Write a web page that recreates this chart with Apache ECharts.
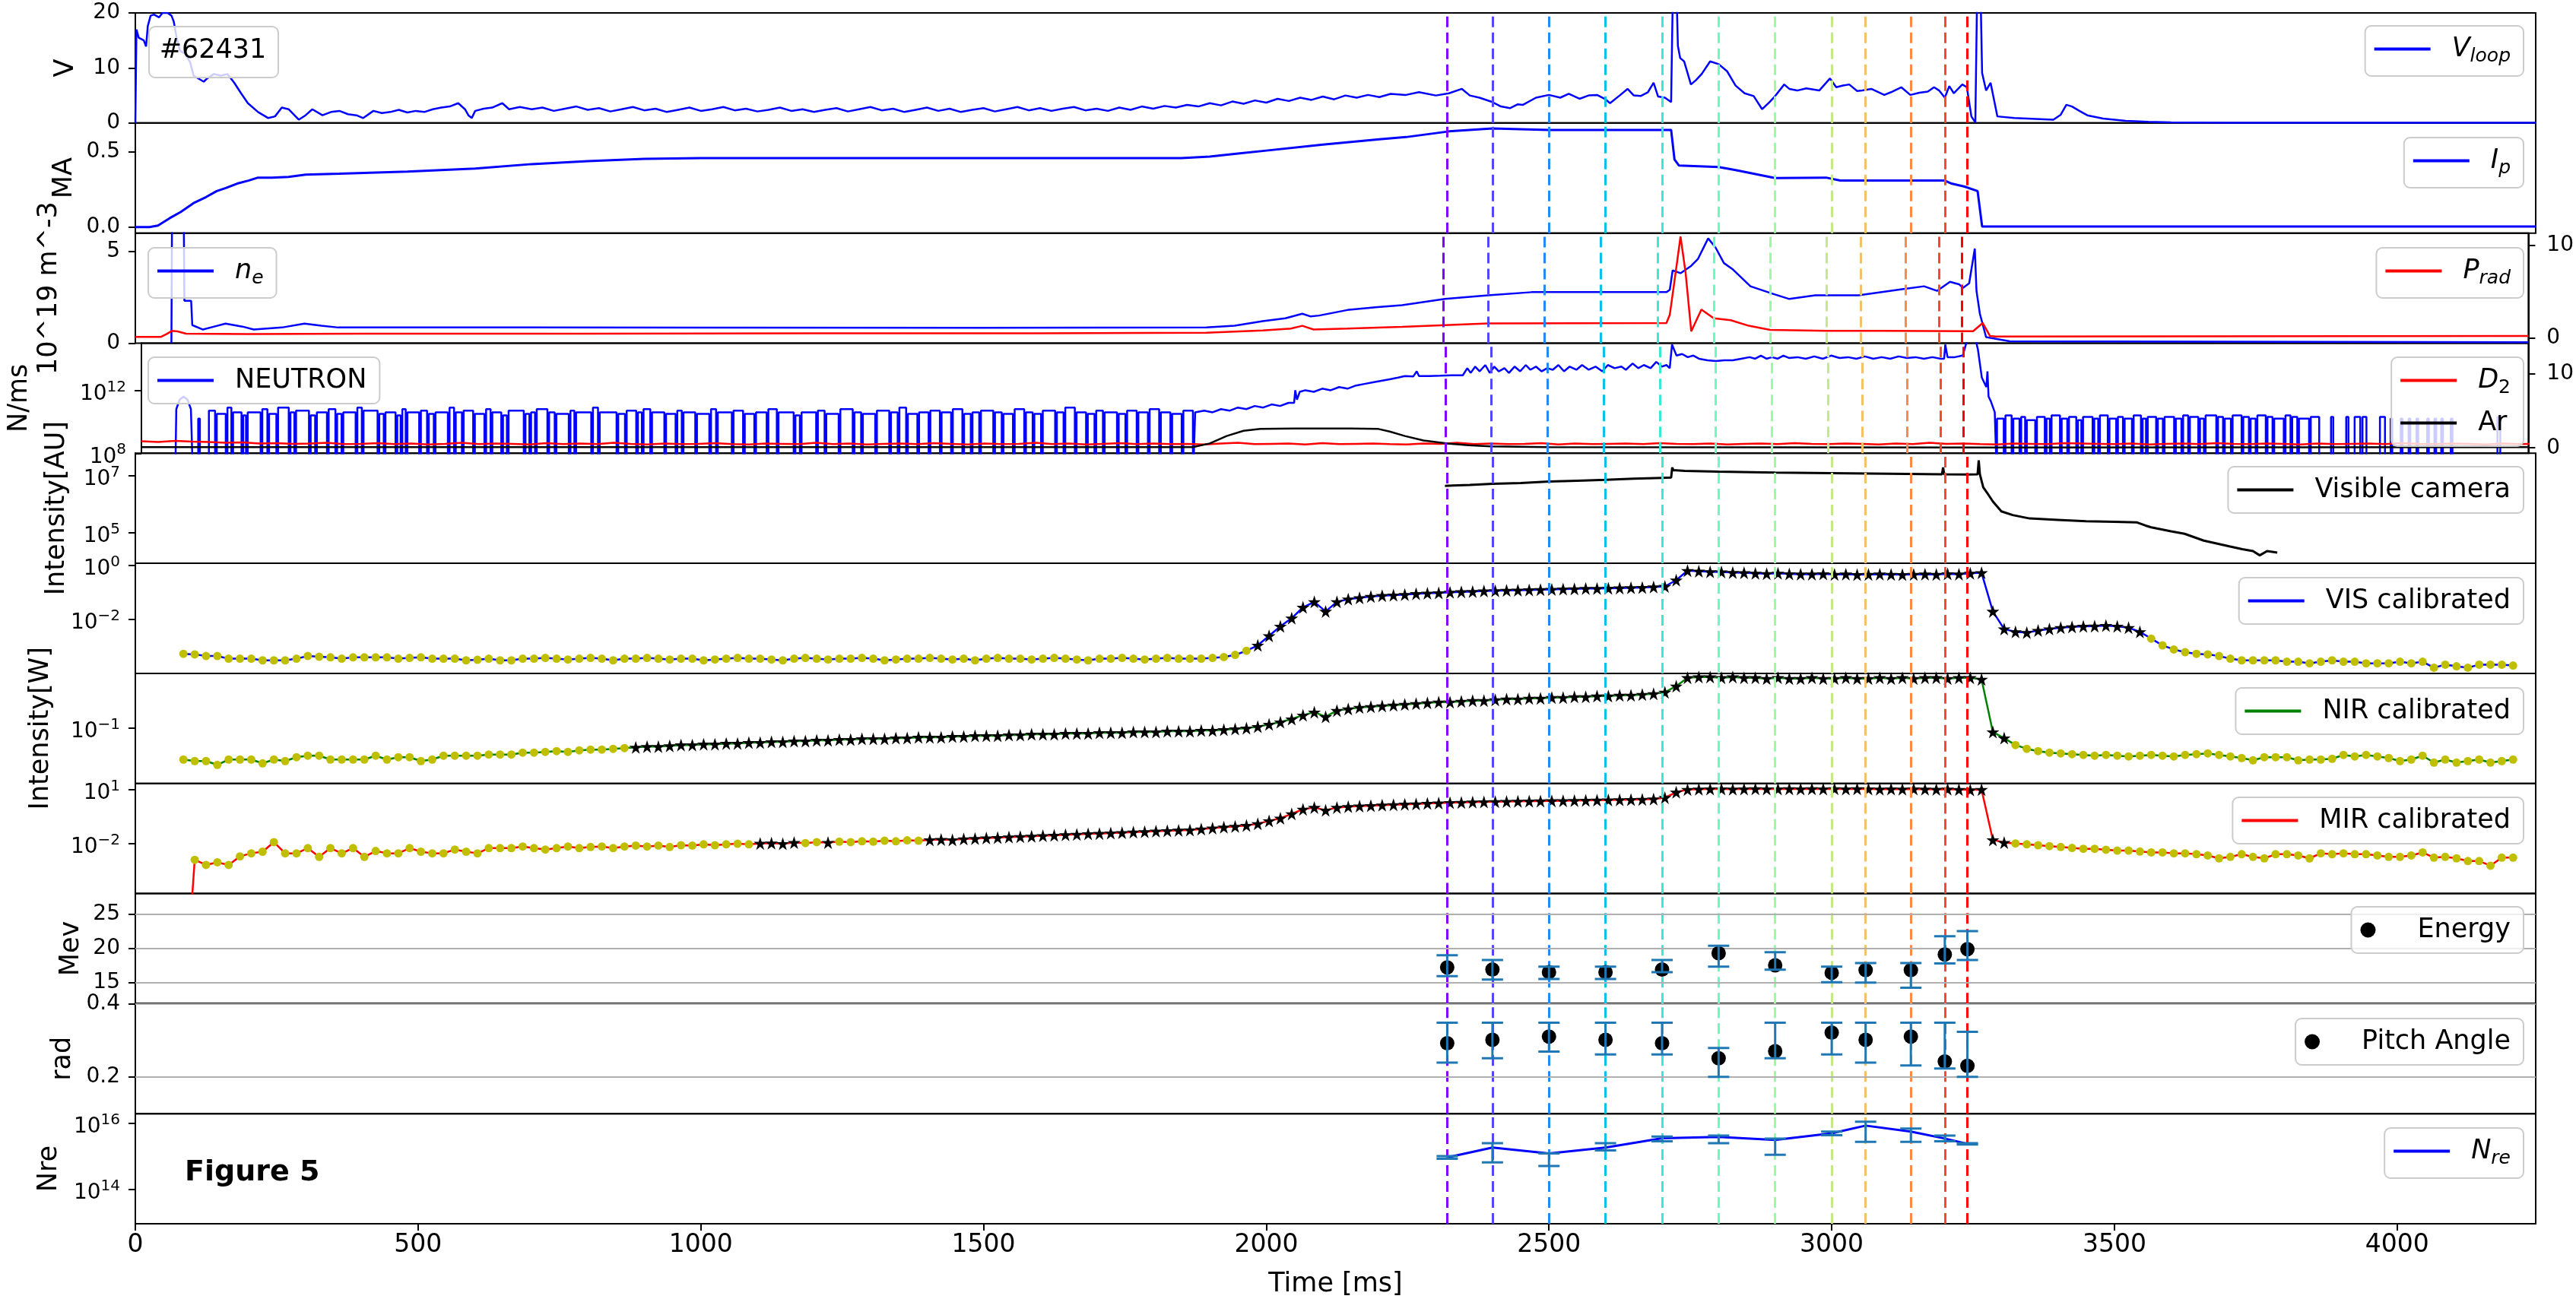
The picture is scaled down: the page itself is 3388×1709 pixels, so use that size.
<!DOCTYPE html>
<html><head><meta charset="utf-8">
<script src="https://cdn.jsdelivr.net/npm/echarts@6/dist/echarts.min.js"></script>
<style>html,body{margin:0;padding:0;background:#fff;}#c{width:3388px;height:1709px;}</style>
</head><body><div id="c"></div>
<script>
// ---------------- DATA ----------------
const xTicks = [0,500,1000,1500,2000,2500,3000,3500,4000];
const vlineT = [2320,2400,2500,2600,2700,2800,2900,3000,3060,3140,3200,3240];
const vlineC = ['#8000ff','#5148fc','#238af5','#0cc1e8','#3ae8d7','#68fcc1','#97fca7','#c5e88a','#f3c16a','#ff8a48','#ff4824','#ff0000'];

// panel 1: loop voltage [ms, V]
const vloop = [[0,0],[2,17],[6,15.5],[15,15],[19,13.9],[22,17.6],[27,19.5],[33,19.7],[42,19.2],[48,20],[57,20],[64,19.5],[68,18.4],[73,15.5],[79,13.1],[88,12.6],[97,11],[103,8.6],[121,7.5],[127,8.1],[139,8.9],[151,8.6],[163,8.9],[175,7.3],[187,5.4],[199,3.6],[217,2.0],[235,0.9],[247,1.2],[259,2.8],[271,2.5],[289,0.6],[301,1.4],[313,2.5],[331,1.4],[346,2.0],[361,2.2],[376,1.6],[391,1.4],[403,0.9],[421,2.2],[436,1.8],[451,2.0],[466,2.4],[481,1.9],[496,2.2],[511,2.0],[526,2.5],[541,2.8],[556,3.0],[571,3.6],[583,2.5],[589,1.4],[595,0.9],[601,2.2],[616,2.6],[631,2.8],[649,3.6],[661,2.5],[680,2.9],[701,2.5],
[720,2.8],[740,2.2],[760,2.6],[780,3.0],[800,2.4],[820,2.7],[840,2.1],[860,2.5],[880,2.9],[900,2.3],[920,2.6],[940,2.0],[960,2.4],[980,2.8],[1000,2.2],[1020,2.5],[1040,2.9],[1060,2.3],[1080,2.6],[1100,2.1],[1120,2.4],[1140,2.8],[1160,2.2],[1180,2.5],[1200,2.0],[1220,2.4],[1240,2.7],[1260,2.1],[1280,2.5],[1300,2.9],[1320,2.3],[1340,2.6],[1360,2.0],[1380,2.4],[1400,2.8],[1420,2.2],[1440,2.6],[1460,2.0],[1480,2.4],[1500,2.7],[1520,2.1],[1540,2.5],[1560,2.9],[1580,2.3],[1600,2.7],[1620,2.2],[1640,2.6],[1660,2.9],[1680,2.3],[1700,2.6],[1720,2.2],[1740,2.8],[1760,2.4],[1780,3.0],[1800,2.6],[1820,3.1],[1840,2.8],[1860,3.3],[1880,3.0],[1900,3.6],[1920,3.2],[1940,3.9],[1960,3.5],[1980,4.1],[2000,3.7],[2020,4.4],[2040,4.0],[2060,4.6],[2080,4.2],[2100,4.8],[2120,4.3],[2140,5.0],[2160,4.6],[2180,5.1],[2200,4.7],[2220,5.3],[2247,5.1],
[2270,5.6],[2300,5.0],[2323,5.4],[2346,6.2],[2360,5.0],[2377,4.6],[2400,3.8],[2415,3.0],[2431,2.7],[2445,3.4],[2454,3.3],[2477,4.6],[2500,5.1],[2520,4.6],[2535,5.3],[2554,4.4],[2570,5.0],[2585,5.1],[2600,4.3],[2608,3.6],[2625,5.0],[2639,6.2],[2650,5.0],[2662,4.9],[2675,5.6],[2685,7.3],[2693,4.8],[2705,4.6],[2716,3.8],[2720,30],[2724,30],[2728,14],[2732,11.8],[2739,11.2],[2751,7.0],[2760,7.8],[2770,8.9],[2785,11.2],[2800,10.7],[2815,9.4],[2830,6.8],[2846,5.4],[2862,4.9],[2877,2.5],[2890,3.8],[2900,4.9],[2916,7.0],[2925,6.2],[2939,5.9],[2955,6.3],[2978,5.9],[2997,8.1],[3008,6.5],[3020,6.8],[3031,7.0],[3045,5.8],[3054,5.9],[3070,6.2],[3093,5.1],[3105,5.6],[3123,6.5],[3139,5.1],[3155,5.5],[3170,5.7],[3181,6.5],[3190,5.9],[3200,4.6],[3208,6.7],[3216,5.4],[3231,7.0],[3239,6.5],[3247,1.2],[3254,0.1],[3258,30],[3262,30],[3266,9.1],[3273,5.9],[3281,7.3],[3293,1.2],[3323,0.9],[3392,0.6],[3405,1.5],[3415,3.3],[3425,3.0],[3438,2.2],[3452,1.4],[3480,0.8],[3520,0.4],[3560,0.2],[3600,0.1],[3700,0.05],[4245,0.05]];

// panel 2: plasma current [ms, MA]
const ip = [[0,0],[25,0],[40,0.01],[61,0.06],[80,0.1],[103,0.16],[125,0.2],[144,0.24],[160,0.26],[180,0.29],[200,0.31],[217,0.33],[241,0.33],[271,0.335],[301,0.35],[361,0.356],[481,0.37],[601,0.39],[701,0.42],[800,0.44],[900,0.455],[1000,0.46],[1400,0.46],[1850,0.46],[1900,0.47],[1950,0.49],[2000,0.51],[2100,0.55],[2200,0.585],[2247,0.60],[2323,0.638],[2400,0.658],[2500,0.648],[2716,0.648],[2722,0.45],[2730,0.41],[2800,0.40],[2830,0.38],[2900,0.327],[2990,0.33],[3015,0.31],[3200,0.31],[3212,0.29],[3235,0.27],[3258,0.24],[3266,0.004],[4245,0.004]];

// panel 3: density [ms, 1e19 m^-3] and radiated power (right axis)
const ne = [[64,0],[65,6.5],[86,6.5],[87,2.3],[99,2.3],[101,0.98],[120,0.74],[140,0.9],[160,1.06],[190,0.9],[210,0.74],[260,0.85],[300,1.06],[330,0.95],[360,0.85],[700,0.85],[1000,0.84],[1500,0.83],[1900,0.85],[1950,0.95],[2000,1.2],[2040,1.35],[2070,1.6],[2085,1.45],[2100,1.5],[2150,1.8],[2200,1.95],[2247,2.06],[2323,2.4],[2400,2.6],[2477,2.77],[2716,2.77],[2722,2.9],[2727,3.95],[2741,3.8],[2760,4.2],[2772,4.58],[2790,5.69],[2803,5.2],[2818,4.35],[2834,4.0],[2865,3.09],[2903,2.7],[2934,2.4],[2980,2.6],[3057,2.6],[3134,2.93],[3173,3.09],[3196,2.84],[3219,3.33],[3235,3.2],[3242,3.0],[3253,3.25],[3263,5.14],[3266,2.84],[3272,1.6],[3283,0.33],[3325,0.1],[4245,0.05]];
const prad = [[0,0.1],[45,0.1],[55,0.4],[65,0.75],[75,0.7],[90,0.45],[200,0.4],[400,0.45],[800,0.45],[1200,0.5],[1600,0.5],[1900,0.55],[2000,0.8],[2050,1.0],[2070,1.3],[2090,0.9],[2150,1.0],[2247,1.18],[2400,1.55],[2716,1.6],[2722,2.5],[2730,6],[2741,10.9],[2750,7],[2760,0.7],[2770,2],[2778,3.05],[2800,2.1],[2830,1.9],[2862,1.3],[2900,0.86],[3000,0.75],[3100,0.75],[3260,0.72],[3277,1.6],[3290,0.2],[3300,0.15],[4245,0.2]];

// panel 4: neutron rate (log10 N/ms) and gas (right axis)
const NLOW = 6;
const neutronHump = [[0,NLOW],[60,NLOW],[62,10.8],[68,11.4],[75,11.6],[82,11.4],[88,10.8],[92,NLOW],[101,NLOW],[101,10.2],[104,10.2],[104,NLOW]];
// [start ms, end ms, log10 level] of the bursts before the ramp-up
const neutronOnEarly = [[120,131,10.7],[134,150,10.5],[153,160,10.9],[163,178,10.6],[181,186,10.4],[189,212,10.6],[215,224,10.8],[227,240,10.5],[243,262,10.9],[265,272,10.6],[275,298,10.7],[301,309,10.4],[312,330,10.6],[333,345,10.8],[348,356,10.5],[359,381,10.6],[384,392,10.9],[395,420,10.7],[423,431,10.5],[434,452,10.6],[455,461,10.4],[464,470,10.8],[473,494,10.6],[497,508,10.7],[511,520,10.5],[523,545,10.6],[548,556,10.9],[559,570,10.6],[573,590,10.7],[593,610,10.5],[613,621,10.8],[624,640,10.6],[643,650,10.4],[653,680,10.7],[683,690,10.5],[693,700,10.6],[703,722,10.8],[725,735,10.6],[738,760,10.5],[763,770,10.7],[773,800,10.6],[803,812,10.9],[815,845,10.6],[848,860,10.5],[863,880,10.7],[883,890,10.6],[893,905,10.8],[908,930,10.6],[933,950,10.5],[953,961,10.7],[964,985,10.6],[988,1010,10.5],[1013,1022,10.8],[1025,1050,10.6],[1053,1070,10.7],[1073,1090,10.5],[1093,1112,10.6],[1115,1130,10.8],[1133,1160,10.6],[1163,1171,10.4],[1174,1200,10.6],[1203,1215,10.7],[1218,1240,10.5],[1243,1265,10.8],[1268,1280,10.6],[1283,1305,10.5],[1308,1330,10.7],[1333,1345,10.6],[1348,1360,10.9],[1363,1380,10.5],[1383,1400,10.6],[1403,1420,10.7],[1423,1440,10.6],[1443,1460,10.8],[1463,1475,10.5],[1478,1490,10.6],[1493,1515,10.7],[1518,1530,10.6],[1533,1550,10.5],[1553,1570,10.8],[1573,1585,10.6],[1588,1600,10.5],[1603,1625,10.7],[1628,1640,10.6],[1643,1660,10.9],[1663,1680,10.6],[1683,1695,10.5],[1698,1710,10.7],[1713,1735,10.6],[1738,1750,10.5],[1753,1770,10.7],[1773,1790,10.6],[1793,1810,10.8],[1813,1830,10.6],[1833,1850,10.5],[1853,1870,10.7]];
const neutronCurve = [[1874,10.6],[1890,10.7],[1905,10.6],[1920,10.8],[1935,10.7],[1950,10.9],[1965,10.8],[1980,11.0],[1995,10.9],[2010,11.1],[2025,11.0],[2040,11.2],[2050,11.2],[2052,12.0],[2055,11.4],[2060,11.9],[2070,12.0],[2085,11.9],[2100,12.1],[2115,12.0],[2130,12.2],[2145,12.1],[2160,12.3],[2175,12.4],[2190,12.5],[2205,12.6],[2220,12.7],[2235,12.8],[2247,12.9],[2262,12.88],[2268,13.2],[2272,12.9],[2290,12.9],[2310,12.92],[2330,12.95],[2350,12.95],[2358,13.4],[2364,13.1],[2372,13.5],[2380,13.2],[2390,13.6],[2398,13.1],[2406,13.5],[2414,13.2],[2424,13.4],[2432,13.1],[2442,13.5],[2452,13.2],[2462,13.6],[2470,13.3],[2480,13.5],[2490,13.2],[2500,13.4],[2510,13.3],[2520,13.6],[2530,13.2],[2540,13.5],[2552,13.3],[2562,13.6],[2574,13.3],[2586,13.5],[2598,13.2],[2608,13.6],[2620,13.4],[2632,13.5],[2640,13.3],[2652,13.7],[2662,13.4],[2672,13.6],[2684,13.4],[2694,13.8],[2704,13.5],[2712,13.6],[2718,13.4],[2722,14.9],[2730,14.2],[2740,14.3],[2750,14.1],[2760,14.2],[2770,14.0],[2785,13.9],[2800,13.85],[2815,13.9],[2830,13.9],[2845,14.0],[2860,14.1],[2870,14.0],[2880,14.2],[2890,14.0],[2900,14.1],[2910,14.0],[2920,14.2],[2930,14.05],[2945,14.1],[2960,14.0],[2975,14.15],[2990,14.0],[3005,14.2],[3020,14.05],[3035,14.1],[3050,14.0],[3065,14.15],[3080,14.0],[3095,14.1],[3110,14.0],[3125,14.15],[3140,14.05],[3155,14.1],[3170,14.0],[3185,14.1],[3200,14.0],[3206,14.0],[3208,14.9],[3212,14.1],[3225,14.1],[3239,14.2],[3247,15.2],[3262,15.2],[3266,14.6],[3273,12.8],[3281,12.2],[3283,13.2],[3285,11.6],[3289,11.3],[3296,10.6]];
const neutronOnLate = [[3300,3312,10.2],[3315,3326,10.4],[3329,3340,10.2],[3343,3350,10.3],[3353,3368,10.1],[3371,3385,10.3],[3388,3394,10.2],[3397,3412,10.4],[3415,3425,10.2],[3428,3441,10.3],[3444,3450,10.1],[3453,3470,10.3],[3473,3480,10.2],[3483,3497,10.4],[3500,3512,10.2],[3515,3524,10.3],[3527,3540,10.2],[3543,3556,10.4],[3559,3565,10.2],[3568,3583,10.3],[3586,3595,10.2],[3598,3615,10.3],[3618,3628,10.2],[3631,3640,10.4],[3643,3658,10.3],[3661,3668,10.2],[3671,3690,10.4],[3693,3702,10.3],[3705,3716,10.2],[3719,3735,10.4],[3738,3748,10.3],[3751,3760,10.2],[3763,3778,10.4],[3781,3790,10.3],[3793,3810,10.2],[3813,3822,10.4],[3825,3834,10.3],[3837,3855,10.2],[3858,3873,10.3],[3894,3898,10.3],[3921,3925,10.3],[3936,3946,10.3],[3950,3957,10.3],[3981,3990,10.3],[4000,4003,10.2],[4018,4021,10.2],[4032,4035,10.2],[4046,4049,10.2],[4065,4068,10.2],[4078,4081,10.2],[4090,4093,10.2],[4107,4110,10.2],[4190,4195,10.3]];
const d2Step = 30;
const d2 = [0.90,0.80,0.95,0.85,0.80,0.70,0.75,0.60,0.65,0.55, 0.60,0.70,0.50,0.55,0.65,0.50,0.60,0.45,0.55,0.70, 0.50,0.60,0.55,0.45,0.65,0.50,0.60,0.50,0.70,0.55, 0.45,0.60,0.50,0.55,0.65,0.50,0.45,0.60,0.55,0.50, 0.70,0.50,0.60,0.45,0.55,0.60,0.50,0.65,0.55,0.45, 0.60,0.50,0.55,0.70,0.50,0.60,0.45,0.55,0.65,0.50, 0.60,0.50,0.55,0.45,0.60,0.70,0.50,0.55,0.60,0.45, 0.65,0.50,0.55,0.60,0.50,0.45,0.60,0.55,0.70,0.50, 0.60,0.50,0.55,0.65,0.45,0.60,0.50,0.55,0.60,0.50, 0.65,0.55,0.50,0.60,0.45,0.55,0.60,0.50,0.65,0.55, 0.50,0.60,0.55,0.45,0.60,0.50,0.70,0.55,0.60,0.50, 0.45,0.60,0.55,0.50,0.65,0.60,0.55,0.50,0.60,0.45, 0.55,0.60,0.50,0.65,0.55,0.50,0.60,0.55,0.45,0.60, 0.50,0.55,0.60,0.50,0.65,0.55,0.50,0.60,0.55,0.45, 0.60,0.50,0.55,0.60,0.50,0.65,0.55,0.50,0.60,0.55];
const ar = [[0,0.1],[1870,0.1],[1900,0.6],[1930,1.6],[1960,2.3],[1990,2.55],[2050,2.6],[2150,2.6],[2200,2.55],[2220,2.2],[2247,1.6],[2280,1.0],[2323,0.6],[2360,0.35],[2400,0.2],[2500,0.1],[3300,0.05],[4245,0.1]];

// panel 5: visible camera (log10 AU)
const vcam = [[2316,6.65],[2330,6.66],[2360,6.68],[2400,6.72],[2450,6.75],[2500,6.8],[2550,6.83],[2600,6.86],[2650,6.9],[2700,6.93],[2716,6.94],[2718,7.3],[2720,7.2],[2725,7.2],[2740,7.18],[2800,7.15],[2900,7.12],[3000,7.1],[3100,7.08],[3195,7.06],[3197,7.3],[3199,7.06],[3240,7.05],[3258,7.06],[3260,7.55],[3262,7.06],[3268,6.6],[3275,6.4],[3285,6.1],[3300,5.75],[3320,5.62],[3350,5.5],[3400,5.45],[3450,5.4],[3500,5.38],[3540,5.36],[3555,5.25],[3565,5.19],[3600,5.05],[3624,4.96],[3658,4.72],[3703,4.52],[3726,4.42],[3745,4.35],[3757,4.2],[3770,4.35],[3788,4.3]];

// panels 6-8: calibrated intensities, log10 W, 20 ms sampling
const calStep = 20;
const visT0 = 85;
const vis = [
-3.26,-3.28,-3.34,-3.34,-3.44,-3.44,-3.44,-3.50,-3.50,-3.50,
-3.44,-3.34,-3.37,-3.39,-3.44,-3.39,-3.39,-3.39,-3.39,-3.44,
-3.41,-3.39,-3.44,-3.44,-3.44,-3.50,-3.48,-3.44,-3.50,-3.50,
-3.44,-3.44,-3.41,-3.44,-3.47,-3.44,-3.41,-3.44,-3.50,-3.44,
-3.44,-3.41,-3.44,-3.47,-3.44,-3.44,-3.50,-3.47,-3.44,-3.41,
-3.44,-3.44,-3.47,-3.50,-3.44,-3.41,-3.44,-3.47,-3.44,-3.44,
-3.41,-3.44,-3.50,-3.47,-3.44,-3.44,-3.41,-3.44,-3.47,-3.44,
-3.50,-3.44,-3.41,-3.44,-3.44,-3.47,-3.44,-3.41,-3.44,-3.47,
-3.50,-3.44,-3.44,-3.41,-3.44,-3.47,-3.44,-3.41,-3.44,-3.44,
-3.44,-3.41,-3.38,-3.30,-3.15,-2.95,-2.60,-2.25,-1.95,-1.55,
-1.35,-1.70,-1.35,-1.25,-1.20,-1.15,-1.12,-1.10,-1.08,-1.05,
-1.03,-1.02,-1.00,-0.98,-0.97,-0.95,-0.94,-0.93,-0.92,-0.91,
-0.90,-0.89,-0.88,-0.87,-0.86,-0.86,-0.85,-0.84,-0.83,-0.82,
-0.80,-0.78,-0.55,-0.20,-0.22,-0.24,-0.25,-0.27,-0.28,-0.30,
-0.31,-0.30,-0.32,-0.33,-0.33,-0.32,-0.34,-0.33,-0.35,-0.34,
-0.33,-0.34,-0.35,-0.34,-0.33,-0.34,-0.32,-0.33,-0.30,-0.28,
-1.70,-2.35,-2.45,-2.48,-2.40,-2.35,-2.30,-2.27,-2.25,-2.24,
-2.22,-2.25,-2.30,-2.45,-2.70,-2.95,-3.10,-3.20,-3.26,-3.28,
-3.34,-3.44,-3.50,-3.50,-3.50,-3.50,-3.55,-3.55,-3.61,-3.55,
-3.50,-3.55,-3.55,-3.61,-3.61,-3.61,-3.55,-3.61,-3.55,-3.77,
-3.66,-3.72,-3.77,-3.66,-3.66,-3.66,-3.69];
const visStar = [[1975,3560]];
const nirT0 = 85;
const nir = [
-1.41,-1.43,-1.43,-1.48,-1.41,-1.41,-1.41,-1.46,-1.41,-1.43,
-1.38,-1.36,-1.36,-1.41,-1.41,-1.41,-1.41,-1.36,-1.41,-1.38,
-1.38,-1.43,-1.41,-1.36,-1.36,-1.36,-1.36,-1.345,-1.345,-1.345,
-1.32,-1.32,-1.31,-1.30,-1.31,-1.29,-1.28,-1.28,-1.27,-1.26,
-1.25,-1.24,-1.24,-1.23,-1.22,-1.22,-1.21,-1.21,-1.20,-1.20,
-1.19,-1.19,-1.18,-1.18,-1.17,-1.17,-1.16,-1.16,-1.15,-1.15,
-1.14,-1.14,-1.14,-1.13,-1.13,-1.12,-1.12,-1.12,-1.11,-1.11,
-1.10,-1.10,-1.10,-1.09,-1.09,-1.08,-1.08,-1.08,-1.07,-1.07,
-1.07,-1.06,-1.06,-1.06,-1.05,-1.05,-1.05,-1.04,-1.04,-1.04,
-1.03,-1.03,-1.02,-1.01,-1.00,-0.98,-0.95,-0.92,-0.88,-0.83,
-0.79,-0.85,-0.77,-0.75,-0.73,-0.72,-0.71,-0.70,-0.69,-0.68,
-0.67,-0.66,-0.66,-0.65,-0.64,-0.64,-0.63,-0.62,-0.62,-0.61,
-0.61,-0.60,-0.60,-0.59,-0.59,-0.58,-0.58,-0.57,-0.57,-0.56,
-0.55,-0.53,-0.45,-0.34,-0.33,-0.33,-0.34,-0.33,-0.34,-0.34,
-0.35,-0.34,-0.35,-0.35,-0.34,-0.35,-0.35,-0.34,-0.35,-0.35,
-0.34,-0.35,-0.34,-0.35,-0.34,-0.34,-0.35,-0.34,-0.34,-0.36,
-1.05,-1.13,-1.22,-1.27,-1.30,-1.32,-1.33,-1.34,-1.35,-1.36,
-1.35,-1.36,-1.37,-1.36,-1.35,-1.36,-1.37,-1.35,-1.34,-1.33,
-1.35,-1.37,-1.39,-1.42,-1.38,-1.38,-1.38,-1.42,-1.41,-1.41,
-1.40,-1.35,-1.37,-1.35,-1.37,-1.39,-1.43,-1.41,-1.36,-1.45,
-1.41,-1.45,-1.43,-1.41,-1.45,-1.43,-1.41];
const nirStar = [[880,3310]];
const mirT0 = 105;
const mirPre = [[85,-12]];
const mir = [
-2.91,-3.20,-3.05,-3.20,-2.72,-2.55,-2.46,-1.93,-2.55,-2.55,
-2.26,-2.75,-2.26,-2.55,-2.26,-2.75,-2.42,-2.55,-2.55,-2.26,
-2.46,-2.55,-2.55,-2.34,-2.46,-2.55,-2.26,-2.26,-2.26,-2.17,
-2.26,-2.34,-2.26,-2.17,-2.26,-2.20,-2.17,-2.26,-2.17,-2.12,
-2.17,-2.12,-2.20,-2.10,-2.12,-2.05,-2.10,-2.05,-2.02,-2.05,
-2.00,-1.98,-2.02,-1.95,-1.98,-1.93,-1.95,-1.90,-1.93,-1.88,
-1.90,-1.85,-1.88,-1.83,-1.85,-1.80,-1.78,-1.80,-1.75,-1.73,
-1.70,-1.68,-1.65,-1.62,-1.60,-1.57,-1.55,-1.52,-1.50,-1.47,
-1.45,-1.42,-1.40,-1.37,-1.35,-1.32,-1.30,-1.27,-1.25,-1.20,
-1.15,-1.10,-1.05,-1.00,-0.90,-0.75,-0.60,-0.35,-0.10,0.00,
-0.15,0.00,0.05,0.08,0.10,0.13,0.15,0.18,0.20,0.23,
0.25,0.27,0.28,0.30,0.31,0.32,0.33,0.34,0.35,0.36,
0.37,0.38,0.39,0.40,0.41,0.42,0.43,0.44,0.45,0.47,
0.55,0.85,1.00,1.02,1.03,1.03,1.02,1.03,1.04,1.03,
1.03,1.04,1.03,1.04,1.03,1.04,1.03,1.04,1.03,1.02,
1.03,1.02,1.03,1.02,1.01,1.02,1.00,0.98,1.00,-1.80,
-1.95,-2.00,-2.05,-2.10,-2.15,-2.20,-2.25,-2.30,-2.30,-2.35,
-2.40,-2.40,-2.45,-2.50,-2.50,-2.55,-2.55,-2.60,-2.67,-2.83,
-2.75,-2.60,-2.75,-2.83,-2.60,-2.60,-2.67,-2.83,-2.55,-2.60,
-2.55,-2.60,-2.60,-2.67,-2.75,-2.75,-2.67,-2.50,-2.79,-2.75,
-2.83,-2.98,-2.98,-3.24,-2.79,-2.79];
const mirStar = [[1100,1170],[1220,1230],[1400,3310]];

// panels 9-11: runaway electron estimates at the marked times
const measT = [2320,2400,2500,2600,2700,2800,2900,3000,3060,3140,3200,3240];
const energy   = [17.2,16.9,16.5,16.5,16.9,19.3,17.5,16.4,16.8,16.8,19.1,19.9];
const energyLo = [15.9,15.4,15.5,15.5,16.5,17.3,16.85,15.0,14.95,14.2,17.8,18.3];
const energyHi = [19.0,18.3,17.3,17.3,18.3,20.4,19.45,17.3,17.85,17.85,21.8,22.55];
const pitch   = [0.292,0.301,0.31,0.301,0.292,0.251,0.27,0.321,0.301,0.31,0.242,0.23];
const pitchLo = [0.239,0.251,0.269,0.261,0.261,0.2,0.251,0.261,0.239,0.231,0.223,0.2];
const pitchHi = [0.348,0.348,0.348,0.348,0.348,0.279,0.348,0.348,0.348,0.348,0.348,0.323];
const nre   = [14.97,15.27,15.09,15.27,15.55,15.59,15.5,15.70,15.93,15.75,15.54,15.38];
const nreLo = [14.93,14.82,14.71,15.18,15.46,15.40,15.05,15.64,15.44,15.44,15.46,15.36];
const nreHi = [15.01,15.40,15.09,15.40,15.60,15.63,15.54,15.75,16.05,15.84,15.63,15.40];

// ---------------- LAYOUT / STYLE ----------------
const FF = 'DejaVu Sans';
const XMAX = 4245, LEFT = 178, RIGHT_EDGE = 3335, TOP0 = 17, BOT = 1610;
const PH = (BOT - TOP0) / 11;
const BLUE = '#0000ff', RED = '#ff0000', GREEN = '#008000', BLACK = '#000000', YEL = '#bfbf00', EBLUE = '#1f77b4';
const STAR = 'path://M50,0 L61.2,34.5 L97.6,34.5 L68.2,55.9 L79.4,90.5 L50,69.1 L20.6,90.5 L31.8,55.9 L2.4,34.5 L38.8,34.5 Z';

const logFmt = v => '{b|10}{s|' + String(Math.round(v)).replace('-', '\u2212') + '}';
const LBL_RICH = {
  b: {fontFamily: FF, fontSize: 28, color: '#000', padding: [10, 0, 0, 0]},
  s: {fontFamily: FF, fontSize: 20, color: '#000', padding: [0, 0, 8, 0]}
};

function yax(gi, min, max, ticks, fmt, name, gap, pos) {
  const right = pos === 'right';
  return {
    type: 'value', gridIndex: gi, position: pos || 'left', min: min, max: max,
    splitLine: {show: false},
    axisLine: {show: true, lineStyle: {color: '#000', width: 2}},
    axisTick: {show: true, length: 9, lineStyle: {color: '#000', width: 2}, customValues: ticks},
    axisLabel: {customValues: ticks, formatter: fmt, fontFamily: FF, fontSize: 28, color: '#000', margin: right ? 24 : 20, rich: LBL_RICH},
    name: name || '', nameLocation: 'middle', nameGap: gap || 0, nameRotate: 90,
    nameTextStyle: {fontFamily: FF, fontSize: 35, color: '#000'}
  };
}
const intFmt = v => String(v);
const f1 = v => v.toFixed(1);

const grids = [], xAxes = [];
for (let i = 0; i < 11; i++) {
  grids.push({left: LEFT, width: RIGHT_EDGE - LEFT, top: TOP0 + i * PH, height: PH, show: true,
    borderColor: '#000', borderWidth: 2, backgroundColor: 'rgba(0,0,0,0)'});
  xAxes.push({
    type: 'value', gridIndex: i, min: 0, max: XMAX, splitLine: {show: false},
    axisLine: {show: false},
    axisTick: {show: i === 10, length: 9, lineStyle: {color: '#000', width: 2}, customValues: xTicks},
    axisLabel: {show: i === 10, customValues: xTicks, formatter: v => String(v), fontFamily: FF, fontSize: 33, color: '#000', margin: 12},
    name: i === 10 ? 'Time [ms]' : '', nameLocation: 'middle', nameGap: 62,
    nameTextStyle: {fontFamily: FF, fontSize: 35, color: '#000'}
  });
}

const yAxes = [
  yax(0, 0, 20, [0,10,20], intFmt, 'V', 74),                       // 0
  yax(1, -0.04, 0.694, [0,0.5], f1, 'MA', 76),                      // 1
  yax(2, 0, 5.98, [0,5], intFmt, '10^19 m^-3', 96),                 // 2
  yax(2, -0.57, 11.28, [0,10], intFmt, '', 0, 'right'),             // 3
  yax(3, 8, 14.99, [8,12], logFmt, 'N/ms', 143),                    // 4
  yax(3, -0.72, 14.12, [0,10], intFmt, '', 0, 'right'),             // 5
  yax(4, 3.92, 7.8, [5,7], logFmt, 'Intensity[AU]', 86),            // 6
  yax(5, -3.98, 0.07, [-2,0], logFmt, '', 0),                       // 7
  yax(6, -1.723, -0.283, [-1], logFmt, 'Intensity[W]', 107),        // 8
  yax(7, -4.79, 1.34, [-2,1], logFmt, '', 0),                       // 9
  yax(8, 11.86, 28.1, [15,20,25], intFmt, 'Mev', 67),               // 10
  yax(9, 0.0996, 0.4, [0.2,0.4], f1, 'rad', 78),                    // 11
  yax(10, 12.97, 16.29, [14,16], logFmt, 'Nre', 96)                 // 12
];

// ---------------- SERIES ----------------
function vl() {
  return {
    symbol: ['none', 'none'], silent: true, animation: false, label: {show: false},
    data: vlineT.map((t, k) => ({xAxis: t, lineStyle: {color: vlineC[k], type: [14, 7], width: 3}}))
  };
}
function line(name, gi, yi, data, color, width, extra) {
  return Object.assign({
    name: name, type: 'line', xAxisIndex: gi, yAxisIndex: yi, data: data, showSymbol: false, symbol: 'none',
    lineStyle: {color: color, width: width || 2.5}, itemStyle: {color: color}, animation: false, z: 2, clip: true
  }, extra || {});
}
function errSeries(gi, yi, t, lo, hi) {
  return {
    type: 'custom', xAxisIndex: gi, yAxisIndex: yi, z: 6, silent: true, clip: true, animation: false,
    data: t.map((x, k) => [x, lo[k], hi[k]]), encode: {x: 0, y: [1, 2]},
    renderItem: (params, api) => {
      const x = api.value(0);
      const a = api.coord([x, api.value(1)]), b = api.coord([x, api.value(2)]);
      const st = {stroke: EBLUE, lineWidth: 3};
      const c = 14;
      return {type: 'group', children: [
        {type: 'line', shape: {x1: a[0], y1: a[1], x2: b[0], y2: b[1]}, style: st},
        {type: 'line', shape: {x1: a[0] - c, y1: a[1], x2: a[0] + c, y2: a[1]}, style: st},
        {type: 'line', shape: {x1: b[0] - c, y1: b[1], x2: b[0] + c, y2: b[1]}, style: st}
      ]};
    }
  };
}
function calSeries(name, gi, yi, t0, vals, color, starRanges, pre) {
  const pts = vals.map((v, k) => [t0 + calStep * k, v]);
  const inStar = t => starRanges.some(r => t >= r[0] && t <= r[1]);
  return [
    line(name, gi, yi, (pre || []).concat(pts), color, 2.5, {markLine: vl()}),
    {type: 'scatter', xAxisIndex: gi, yAxisIndex: yi, data: pts.filter(p => !inStar(p[0])), symbol: 'circle',
     symbolSize: 11, itemStyle: {color: YEL, opacity: 1}, z: 3, animation: false, silent: true},
    {type: 'scatter', xAxisIndex: gi, yAxisIndex: yi, data: pts.filter(p => inStar(p[0])), symbol: STAR,
     symbolSize: 17, itemStyle: {color: BLACK, opacity: 1}, z: 3, animation: false, silent: true}
  ];
}
function buildNeutron() {
  const pts = neutronHump.slice();
  neutronOnEarly.forEach(r => pts.push([r[0], NLOW], [r[0], r[2]], [r[1], r[2]], [r[1], NLOW]));
  neutronCurve.forEach(p => pts.push(p));
  neutronOnLate.forEach(r => pts.push([r[0], NLOW], [r[0], r[2]], [r[1], r[2]], [r[1], NLOW]));
  pts.push([XMAX, NLOW]);
  return pts;
}

const series = [
  line('Vloop', 0, 0, vloop, BLUE, 2.5, {markLine: vl()}),
  line('Ip', 1, 1, ip, BLUE, 3, {markLine: vl()}),
  line('ne', 2, 2, ne, BLUE, 2.5, {markLine: vl()}),
  line('Prad', 2, 3, prad, RED, 2.5),
  line('NEUTRON', 3, 4, buildNeutron(), BLUE, 2.5, {markLine: vl()}),
  line('D2', 3, 5, d2.map((v, k) => [k * d2Step, v]), RED, 2.5, {z: 3}),
  line('Ar', 3, 5, ar, BLACK, 2.5, {z: 4}),
  line('Visible camera', 4, 6, vcam, BLACK, 3, {markLine: vl()}),
  ...calSeries('VIS calibrated', 5, 7, visT0, vis, BLUE, visStar),
  ...calSeries('NIR calibrated', 6, 8, nirT0, nir, GREEN, nirStar),
  ...calSeries('MIR calibrated', 7, 9, mirT0, mir, RED, mirStar, mirPre),
  {name: 'Energy', type: 'scatter', xAxisIndex: 8, yAxisIndex: 10, data: measT.map((t, k) => [t, energy[k]]),
   symbol: 'circle', symbolSize: 19, itemStyle: {color: BLACK, opacity: 1}, z: 5, animation: false, markLine: vl()},
  errSeries(8, 10, measT, energyLo, energyHi),
  {name: 'Pitch Angle', type: 'scatter', xAxisIndex: 9, yAxisIndex: 11, data: measT.map((t, k) => [t, pitch[k]]),
   symbol: 'circle', symbolSize: 19, itemStyle: {color: BLACK, opacity: 1}, z: 5, animation: false, markLine: vl()},
  errSeries(9, 11, measT, pitchLo, pitchHi),
  line('Nre', 10, 12, measT.map((t, k) => [t, nre[k]]), BLUE, 3, {markLine: vl()}),
  errSeries(10, 12, measT, nreLo, nreHi),
  {type: 'line', xAxisIndex: 8, yAxisIndex: 10, data: [], silent: true, animation: false, z: 1,
   markLine: {symbol: ['none', 'none'], silent: true, animation: false, label: {show: false},
     lineStyle: {color: '#b0b0b0', type: 'solid', width: 2}, data: [15, 20, 25].map(v => ({yAxis: v}))}},
  {type: 'line', xAxisIndex: 9, yAxisIndex: 11, data: [], silent: true, animation: false, z: 1,
   markLine: {symbol: ['none', 'none'], silent: true, animation: false, label: {show: false},
     lineStyle: {color: '#b0b0b0', type: 'solid', width: 2}, data: [0.2, 0.4].map(v => ({yAxis: v}))}}
];

// ---------------- LEGENDS ----------------
const LEG_TXT = {Vloop: '{i|V}{s|loop}', Ip: '{i|I}{s|p}', ne: '{i|n}{s|e}', Prad: '{i|P}{s|rad}', D2: '{i|D}{n|2}', Nre: '{i|N}{s|re}'};
const LEG_RICH = {
  i: {fontFamily: FF, fontStyle: 'italic', fontSize: 35, color: '#000'},
  s: {fontFamily: FF, fontStyle: 'italic', fontSize: 25, color: '#000', padding: [20, 0, 0, 0]},
  n: {fontFamily: FF, fontSize: 25, color: '#000', padding: [20, 0, 0, 0]}
};
function L(o) {
  return Object.assign({
    orient: 'vertical', itemWidth: 74, itemHeight: 4, icon: 'rect', itemGap: 16, selectedMode: false,
    padding: [13, 17, 13, 12], backgroundColor: 'rgba(255,255,255,0.8)', borderColor: '#cccccc', borderWidth: 2, borderRadius: 8,
    textStyle: {fontFamily: FF, fontSize: 35, color: '#000', padding: [0, 0, 0, 23], rich: LEG_RICH},
    itemStyle: {opacity: 1},
    formatter: n => LEG_TXT[n] || n, z: 20
  }, o);
}
const legends = [
  L({data: ['Vloop'], right: 69, top: 34}),
  L({data: ['Ip'], right: 69, top: 181}),
  L({data: ['ne'], left: 195, top: 326}),
  L({data: ['Prad'], right: 69, top: 326}),
  L({data: ['NEUTRON'], left: 195, top: 470}),
  L({data: ['D2', 'Ar'], right: 69, top: 470}),
  L({data: ['Visible camera'], right: 69, top: 614}),
  L({data: ['VIS calibrated'], right: 69, top: 760}),
  L({data: ['NIR calibrated'], right: 69, top: 905}),
  L({data: ['MIR calibrated'], right: 69, top: 1049}),
  L({data: ['Energy'], right: 69, top: 1193, icon: 'circle', itemHeight: 20}),
  L({data: ['Pitch Angle'], right: 69, top: 1340, icon: 'circle', itemHeight: 20}),
  L({data: ['Nre'], right: 69, top: 1484})
];

const chart = echarts.init(document.getElementById('c'), null, {renderer: 'canvas', width: 3388, height: 1709});
chart.setOption({
  animation: false,
  backgroundColor: '#ffffff',
  grid: grids, xAxis: xAxes, yAxis: yAxes, series: series, legend: legends,
  graphic: [
    {type: 'rect', left: 195, top: 34, z: 30, shape: {width: 170, height: 67, r: 8},
     style: {fill: 'rgba(255,255,255,0.8)', stroke: '#cccccc', lineWidth: 2}},
    {type: 'text', x: 280, y: 67, z: 31, style: {text: '#62431', font: '35px "DejaVu Sans"', fill: '#000', align: 'center', verticalAlign: 'middle'}},
    {type: 'text', x: 243, y: 1543, z: 31, style: {text: 'Figure 5', font: 'bold 38px "DejaVu Sans"', fill: '#000', align: 'left', verticalAlign: 'middle'}}
  ]
});
</script></body></html>
